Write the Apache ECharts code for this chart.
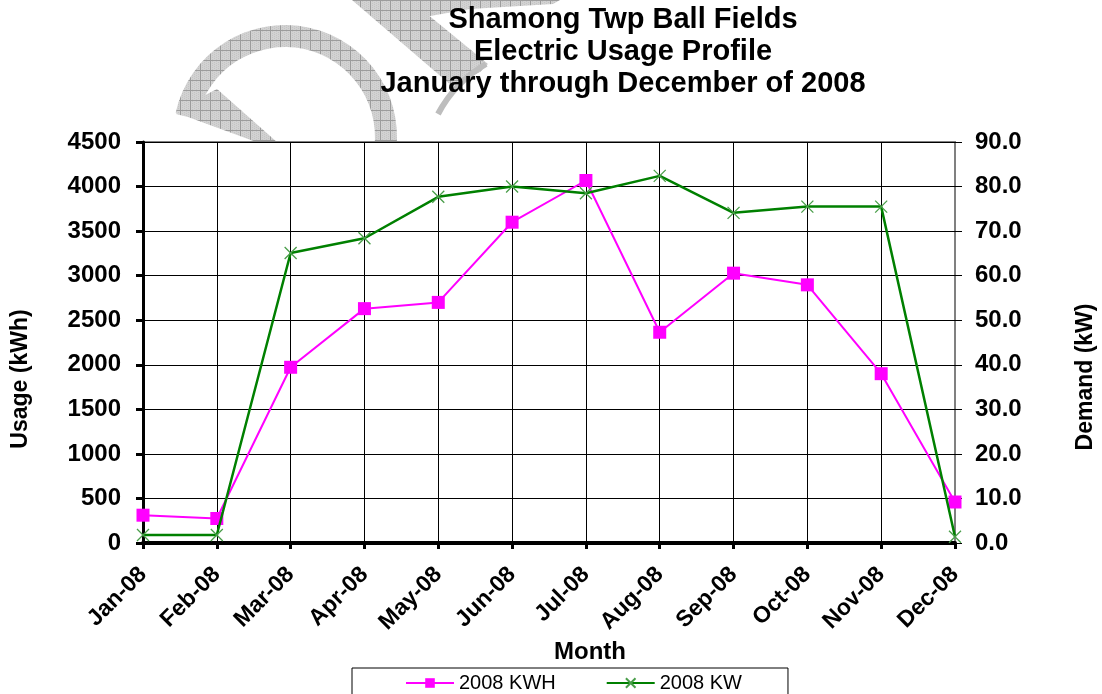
<!DOCTYPE html>
<html>
<head>
<meta charset="utf-8">
<script src="https://cdn.jsdelivr.net/npm/echarts@6/dist/echarts.min.js"></script>
<style>
html,body{margin:0;padding:0;background:#fff;}
#c{width:1102px;height:694px;}
</style>
</head>
<body>
<div id="c"></div>
<script>
const months = ['Jan-08','Feb-08','Mar-08','Apr-08','May-08','Jun-08','Jul-08','Aug-08','Sep-08','Oct-08','Nov-08','Dec-08'];
const kwh = [312, 275, 1972, 2630, 2700, 3600, 4068, 2365, 3028, 2897, 1900, 460];
const kw = [1.8, 1.8, 65.1, 68.4, 77.7, 80.0, 78.5, 82.4, 74.1, 75.5, 75.5, 1.4];
const titleLines = ['Shamong Twp Ball Fields', 'Electric Usage Profile', 'January through December of 2008'];
const seriesNames = ['2008 KWH', '2008 KW'];

const FF = '"Liberation Sans", Arial, sans-serif';
const chart = echarts.init(document.getElementById('c'), null, {renderer: 'canvas'});

// hatched fill for the "DRAFT" watermark
const pc = document.createElement('canvas');
pc.width = 10; pc.height = 10;
const pctx = pc.getContext('2d');
pctx.fillStyle = '#d2d2d2'; pctx.fillRect(0, 0, 10, 10);
pctx.fillStyle = '#c4c4c4';
for (let i = 0; i < 10; i += 2) for (let j = (i/2)%2; j < 10; j += 2) pctx.fillRect(i, j, 1, 1);
pctx.fillStyle = '#9c9c9c'; pctx.fillRect(0, 0, 10, 1); pctx.fillRect(0, 0, 1, 10);
const hatch = {image: pc, repeat: 'repeat'};

const graphics = [
  // watermark fragments (behind plot)
  {type:'sector', z:-10, shape:{cx:285, cy:137, r:112, r0:90, startAngle:3.36, endAngle:6.5, clockwise:true},
   style:{fill:hatch}},
  {type:'polygon', z:-10, shape:{points:[[176,114],[184,106],[217,89],[278,143],[259,143],[188,117]]},
   style:{fill:hatch}},
  {type:'polygon', z:-10, shape:{points:[[352,0],[410,0],[488,64],[480,72],[452,86]]},
   style:{fill:hatch}},
  {type:'polygon', z:-10, shape:{points:[[402,0],[560,0],[553,4],[470,9],[413,19]]},
   style:{fill:hatch}},
  {type:'bezierCurve', z:-10, shape:{x1:486, y1:64, cpx1:455, cpy1:82, x2:438, y2:114},
   style:{fill:null, stroke:'#bdbdbd', lineWidth:6}}
];
titleLines.forEach((t, i) => {
  graphics.push({type:'text', z:10, x:623, y:20 + i*32,
    style:{text:t, fill:'#000', font:'bold 29px ' + FF, align:'center', verticalAlign:'middle'}});
});
graphics.push({type:'text', z:10, x:21, y:379, rotation:Math.PI/2,
  style:{text:'Usage (kWh)', fill:'#000', font:'bold 23px ' + FF, align:'center', verticalAlign:'middle'}});
graphics.push({type:'text', z:10, x:1086, y:377, rotation:Math.PI/2,
  style:{text:'Demand (kW)', fill:'#000', font:'bold 23px ' + FF, align:'center', verticalAlign:'middle'}});
graphics.push({type:'text', z:10, x:590, y:652,
  style:{text:'Month', fill:'#000', font:'bold 24px ' + FF, align:'center', verticalAlign:'middle'}});

const option = {
  animation: false,
  backgroundColor: '#fff',
  graphic: {elements: graphics},
  grid: {left:143, right:147, top:142, bottom:151, show:true, backgroundColor:'#fff', borderColor:'#808080', borderWidth:2, z:0},
  legend: {
    data: seriesNames, left:352, top:668, orient:'horizontal',
    padding:[5,46,12,53], itemGap:50, itemWidth:48, itemHeight:12,
    borderColor:'#000', borderWidth:1, backgroundColor:'#fff',
    textStyle:{fontSize:20, color:'#000', fontFamily:FF}
  },
  xAxis: {
    type:'category', data:months, boundaryGap:false,
    axisLine:{show:true, lineStyle:{color:'#000', width:4}},
    axisTick:{show:true, length:6, inside:false, interval:0, lineStyle:{color:'#000', width:3}},
    splitLine:{show:true, interval:0, lineStyle:{color:'#000', width:1}},
    axisLabel:{interval:0, rotate:45, margin:28, color:'#000', fontSize:23, fontWeight:'bold', fontFamily:FF}
  },
  yAxis: [
    {type:'value', min:0, max:4500, interval:500, position:'left',
     axisLine:{show:true, lineStyle:{color:'#000', width:3}},
     axisTick:{show:true, length:7, lineStyle:{color:'#000', width:3}},
     splitLine:{show:true, lineStyle:{color:'#000', width:1}},
     axisLabel:{margin:22, color:'#000', fontSize:24, fontWeight:'bold', fontFamily:FF,
       formatter: v => String(v)}},
    {type:'value', min:0, max:90, interval:10, position:'right',
     axisLine:{show:true, lineStyle:{color:'#808080', width:1}},
     axisTick:{show:true, length:7, lineStyle:{color:'#000', width:1}},
     splitLine:{show:false},
     axisLabel:{margin:20, color:'#000', fontSize:24, fontWeight:'bold', fontFamily:FF,
       formatter: v => v.toFixed(1)}}
  ],
  series: [
    {name:seriesNames[0], type:'line', data:kwh, yAxisIndex:0,
     symbol:'rect', symbolSize:13, showAllSymbol:true,
     itemStyle:{color:'#ff00ff'}, lineStyle:{color:'#ff00ff', width:2}, z:3},
    {name:seriesNames[1], type:'line', data:kw, yAxisIndex:1,
     symbol:'path://M0,0L10,10M10,0L0,10', symbolSize:12, showAllSymbol:true,
     itemStyle:{color:'rgba(0,0,0,0)', borderColor:'#4a9e4a', borderWidth:1.3},
     lineStyle:{color:'#008000', width:2.5}, z:4}
  ]
};
chart.setOption(option);
</script>
</body>
</html>
